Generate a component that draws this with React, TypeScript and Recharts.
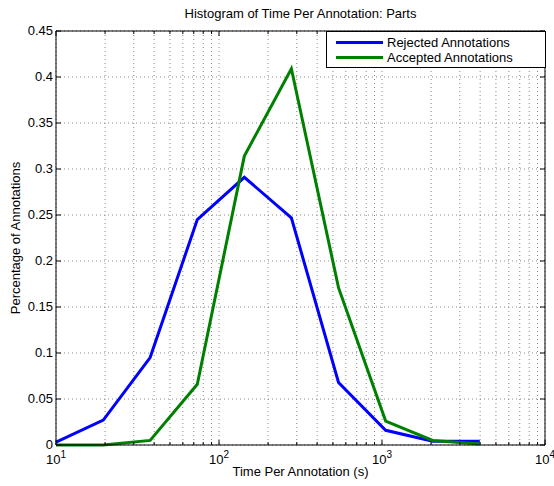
import React from 'react';
import {
  LineChart,
  Line,
  XAxis,
  YAxis,
  CartesianGrid,
  ReferenceLine,
  Label
} from 'recharts';

// histogram bin centres (s), log-spaced
const timeBins = [10, 19.5, 37.8, 73.6, 143, 278, 541, 1053, 2047, 3981];
const rejectedPct = [0.003, 0.027, 0.095, 0.245, 0.291, 0.247, 0.068, 0.016, 0.004, 0.004];
const acceptedPct = [0, 0, 0.005, 0.066, 0.314, 0.409, 0.171, 0.026, 0.005, 0.001];

const majorTicks = [10, 100, 1000, 10000];
const minorTicks = [
  20, 30, 40, 50, 60, 70, 80, 90,
  200, 300, 400, 500, 600, 700, 800, 900,
  2000, 3000, 4000, 5000, 6000, 7000, 8000, 9000
];
const yTicks = [0, 0.05, 0.1, 0.15, 0.2, 0.25, 0.3, 0.35, 0.4, 0.45];

const seriesNames = ['Rejected Annotations', 'Accepted Annotations'];
const seriesColors = ['#0000ff', '#008000'];

const W = 554;
const H = 486;
const PLOT_H = 414;
const PLOT_W = 489;
const FONT = '"Liberation Sans", Arial, Helvetica, sans-serif';

const chartData = timeBins.map((t, i) => ({
  t,
  rejected: rejectedPct[i],
  accepted: acceptedPct[i]
}));

const XTick = (props: any) => {
  const { x, y, payload } = props;
  const v = payload.value;
  const isMajor = majorTicks.includes(v);
  const len = isMajor ? 5 : 3;
  const exp = Math.round(Math.log10(v));
  return (
    <g>
      <line x1={x} y1={y} x2={x} y2={y - len} stroke="#000" />
      <line x1={x} y1={y - PLOT_H} x2={x} y2={y - PLOT_H + len} stroke="#000" />
      {isMajor && (
        <text x={x} y={y + 18.5} textAnchor="middle" fontSize={13} fontFamily={FONT} fill="#000">
          10
          <tspan dy={-6} fontSize={10}>{exp}</tspan>
        </text>
      )}
    </g>
  );
};

const YTick = (props: any) => {
  const { x, y, payload } = props;
  const label = Number(payload.value.toFixed(2)).toString();
  return (
    <g>
      <line x1={x} y1={y} x2={x + 5} y2={y} stroke="#000" />
      <line x1={x + PLOT_W} y1={y} x2={x + PLOT_W - 5} y2={y} stroke="#000" />
      <text x={x - 3} y={y + 4} textAnchor="end" fontSize={13} fontFamily={FONT} fill="#000">
        {label}
      </text>
    </g>
  );
};

const App: React.FC = () => {
  return (
    <div
      style={{
        position: 'absolute',
        left: 0,
        top: 0,
        width: W,
        height: H,
        background: '#FFFFFF',
        fontFamily: FONT
      }}
    >
      <LineChart
        width={W}
        height={H}
        data={chartData}
        margin={{ top: 31, right: 9, left: 0, bottom: 0 }}
      >
        <CartesianGrid stroke="#888" strokeDasharray="1 3" />
        <XAxis
          dataKey="t"
          type="number"
          scale="log"
          domain={[10, 10000]}
          ticks={[...majorTicks, ...minorTicks]}
          interval={0}
          allowDataOverflow
          height={41}
          tickSize={0}
          tickMargin={0}
          tickLine={false}
          tick={<XTick />}
          axisLine={{ stroke: '#000' }}
        >
          <Label
            content={(p: any) => (
              <text
                x={p.viewBox.x + p.viewBox.width / 2}
                y={p.viewBox.y + 31}
                textAnchor="middle"
                fontSize={13}
                fontFamily={FONT}
                fill="#000"
              >
                Time Per Annotation (s)
              </text>
            )}
          />
        </XAxis>
        <YAxis
          type="number"
          domain={[0, 0.45]}
          ticks={yTicks}
          interval={0}
          width={56}
          tickSize={0}
          tickMargin={0}
          tickLine={false}
          tick={<YTick />}
          axisLine={{ stroke: '#000' }}
        >
          <Label
            content={(p: any) => {
              const cx = 20;
              const cy = p.viewBox.y + p.viewBox.height / 2;
              return (
                <text
                  x={cx}
                  y={cy}
                  transform={`rotate(-90 ${cx} ${cy})`}
                  textAnchor="middle"
                  fontSize={13}
                  fontFamily={FONT}
                  fill="#000"
                >
                  Percentage of Annotations
                </text>
              );
            }}
          />
        </YAxis>
        <ReferenceLine y={0.45} stroke="#000" />
        <ReferenceLine x={10000} stroke="#000" />
        <Line
          type="linear"
          dataKey="rejected"
          name={seriesNames[0]}
          stroke={seriesColors[0]}
          strokeWidth={3}
          dot={false}
          isAnimationActive={false}
        />
        <Line
          type="linear"
          dataKey="accepted"
          name={seriesNames[1]}
          stroke={seriesColors[1]}
          strokeWidth={3}
          dot={false}
          isAnimationActive={false}
        />
      </LineChart>

      {/* Title */}
      <div
        style={{
          position: 'absolute',
          left: 56,
          top: 6,
          width: PLOT_W,
          textAlign: 'center',
          fontSize: 13,
          lineHeight: '16px',
          color: '#000'
        }}
      >
        Histogram of Time Per Annotation: Parts
      </div>

      {/* Legend */}
      <div
        style={{
          position: 'absolute',
          left: 326,
          top: 31,
          width: 220,
          height: 37,
          boxSizing: 'border-box',
          border: '1px solid #000',
          background: '#FFFFFF'
        }}
      >
        {seriesNames.map((name, i) => (
          <div
            key={name}
            style={{
              position: 'absolute',
              left: 9,
              top: 3 + i * 15,
              height: 15,
              display: 'flex',
              alignItems: 'center',
              fontSize: 13,
              lineHeight: '15px',
              whiteSpace: 'nowrap'
            }}
          >
            <span
              style={{
                display: 'inline-block',
                width: 47,
                height: 3,
                background: seriesColors[i],
                marginRight: 4
              }}
            />
            <span>{name}</span>
          </div>
        ))}
      </div>
    </div>
  );
};

export default App;
